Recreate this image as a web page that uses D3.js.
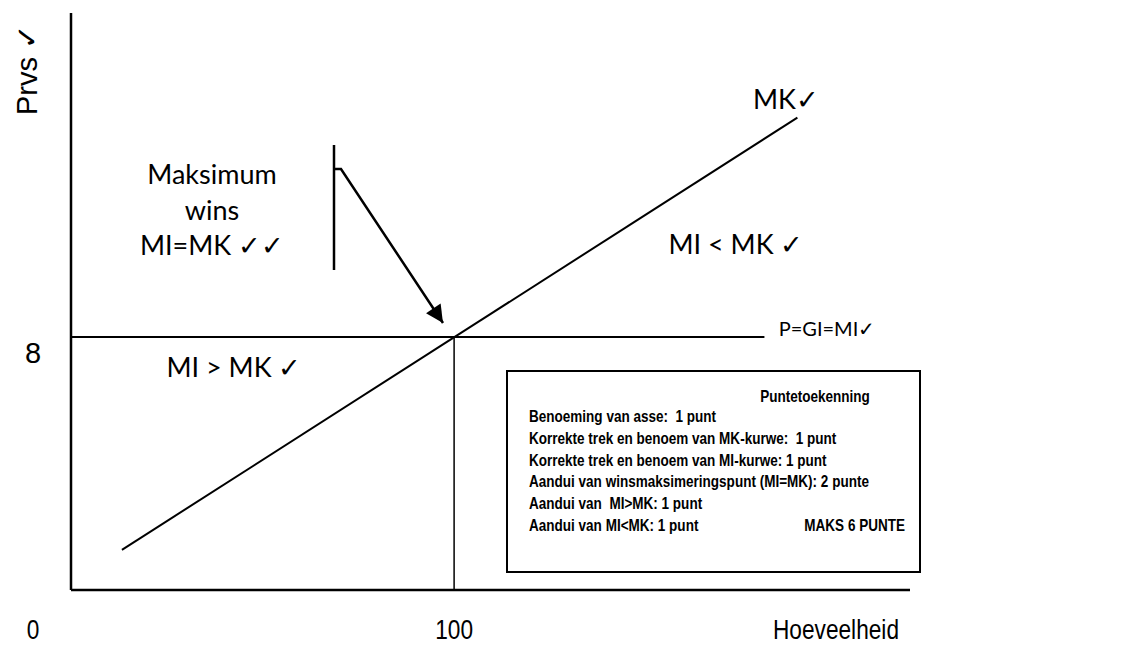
<!DOCTYPE html>
<html>
<head>
<meta charset="utf-8">
<script src="https://cdn.jsdelivr.net/npm/d3@7"></script>
<style>
  body { margin: 0; background: #fff; }
  svg { display: block; }
  .axis-lbl { font-family: "Liberation Sans", Arial, sans-serif; font-size: 29px; fill: #000; }
  .x-lbl { font-family: "Liberation Sans", Arial, sans-serif; font-size: 27px; fill: #000; }
  .note { font-family: Lato, "Open Sans", sans-serif; font-size: 27px; fill: #000; }
  .box-txt { font-family: "Liberation Sans", Arial, sans-serif; font-size: 16.5px; font-weight: bold; fill: #000; }
</style>
</head>
<body>
<svg width="1137" height="646"></svg>
<script>
// chart values
const qtyTicks = [0, 100];
const priceTicks = [8];
const xTitle = "Hoeveelheid";
const yTitle = "Prvs \u2713";
const mkCurve = [{q: 13.3, p: 1.27}, {q: 189.6, p: 14.94}];
const miCurve = [{q: 0, p: 8}, {q: 181, p: 8}];
const equilibrium = {q: 100, p: 8};
const scoreTitle = "Puntetoekenning";
const scoreRows = [
  "Benoeming van asse:  1 punt",
  "Korrekte trek en benoem van MK-kurwe:  1 punt",
  "Korrekte trek en benoem van MI-kurwe: 1 punt",
  "Aandui van winsmaksimeringspunt (MI=MK): 2 punte",
  "Aandui van  MI>MK: 1 punt",
  "Aandui van MI<MK: 1 punt"
];
const scoreTotal = "MAKS 6 PUNTE";

const svg = d3.select("svg");
const width = +svg.attr("width");
const height = +svg.attr("height");

const x = d3.scaleLinear().domain([0, 219]).range([71, 910]);
const y = d3.scaleLinear().domain([0, 18.25]).range([590, 13]);

const line = d3.line().x(d => x(d.q)).y(d => y(d.p));

// axes (plain lines, no ticks)
svg.append("line")
    .attr("x1", x(0)).attr("x2", x(0))
    .attr("y1", y(0)).attr("y2", y(18.25))
    .attr("stroke", "#000").attr("stroke-width", 2.5);
svg.append("line")
    .attr("x1", x(0)).attr("x2", x(219))
    .attr("y1", y(0)).attr("y2", y(0))
    .attr("stroke", "#000").attr("stroke-width", 2.5);

// MI = P line, MK line, vertical at equilibrium
svg.append("path").datum(miCurve).attr("d", line)
    .attr("fill", "none").attr("stroke", "#000").attr("stroke-width", 2);
svg.append("path").datum(mkCurve).attr("d", line)
    .attr("fill", "none").attr("stroke", "#000").attr("stroke-width", 2);
svg.append("path").datum([{q: equilibrium.q, p: 0}, equilibrium]).attr("d", line)
    .attr("fill", "none").attr("stroke", "#000").attr("stroke-width", 1.5);

// x tick labels: narrow text, squeezed horizontally around each anchor
const sx = 0.84;
svg.selectAll(".xt").data(qtyTicks).join("text")
    .attr("class", "x-lbl")
    .attr("transform", d => `translate(${d === 0 ? x(d) - 38 : x(d)},639) scale(${sx},1)`)
    .attr("text-anchor", "middle")
    .text(d => d);
svg.append("text").attr("class", "x-lbl")
    .attr("transform", `translate(836,639) scale(${sx},1)`)
    .attr("text-anchor", "middle")
    .text(xTitle);
svg.selectAll(".yt").data(priceTicks).join("text")
    .attr("class", "axis-lbl")
    .attr("x", x(0) - 38).attr("y", d => y(d) + 26)
    .attr("text-anchor", "middle")
    .text(d => d);
svg.append("text").attr("class", "axis-lbl")
    .attr("transform", "translate(37,70) rotate(-90)")
    .attr("text-anchor", "middle")
    .text(yTitle);

// annotations
const notes = [
  {t: "MK\u2713", x: 786, y: 109},
  {t: "Maksimum", x: 212, y: 184},
  {t: "wins", x: 212, y: 220},
  {t: "MI=MK \u2713\u2713", x: 212, y: 255},
  {t: "MI < MK \u2713", x: 736, y: 254},
  {t: "MI > MK \u2713", x: 234, y: 377}
];
svg.selectAll(".note").data(notes).join("text")
    .attr("class", "note")
    .attr("x", d => d.x).attr("y", d => d.y)
    .attr("text-anchor", "middle")
    .text(d => d.t);
svg.append("text").attr("class", "note")
    .style("font-size", "20px")
    .attr("x", 827).attr("y", 336).attr("text-anchor", "middle")
    .text("P=GI=MI\u2713");

// arrow pointing to MI=MK
svg.append("defs").append("marker")
    .attr("id", "head").attr("viewBox", "0 0 10 10")
    .attr("refX", 10).attr("refY", 5)
    .attr("markerWidth", 8).attr("markerHeight", 7)
    .attr("markerUnits", "strokeWidth")
    .attr("orient", "auto")
  .append("path").attr("d", "M0,0 L10,5 L0,10 Z").attr("fill", "#000");
svg.append("line")
    .attr("x1", 334).attr("x2", 334).attr("y1", 145).attr("y2", 270)
    .attr("stroke", "#000").attr("stroke-width", 2.5);
svg.append("path")
    .attr("d", "M334,169 L341,169 L443,323")
    .attr("fill", "none").attr("stroke", "#000").attr("stroke-width", 2.5)
    .attr("marker-end", "url(#head)");

// scoring box
svg.append("rect")
    .attr("x", 507).attr("y", 371).attr("width", 413).attr("height", 201)
    .attr("fill", "#fff").attr("stroke", "#000").attr("stroke-width", 2);
const bs = 0.82;
const boxText = svg.append("g").attr("transform", `translate(529,0) scale(${bs},1)`);
boxText.append("text").attr("class", "box-txt")
    .attr("x", (815 - 529) / bs).attr("y", 402).attr("text-anchor", "middle")
    .text(scoreTitle);
boxText.selectAll(".row").data(scoreRows).join("text")
    .attr("class", "box-txt")
    .attr("x", 0)
    .attr("y", (d, i) => 422 + i * 21.8)
    .style("white-space", "pre")
    .text(d => d);
boxText.append("text").attr("class", "box-txt")
    .attr("x", (905 - 529) / bs).attr("y", 531).attr("text-anchor", "end")
    .text(scoreTotal);
</script>
</body>
</html>
